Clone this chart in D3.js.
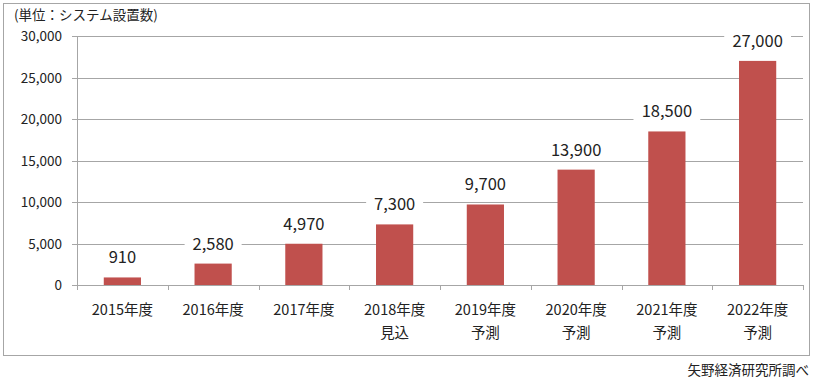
<!DOCTYPE html>
<html>
<head>
<meta charset="utf-8">
<script src="https://d3js.org/d3.v7.min.js"></script>
<style>
  body { margin: 0; background: #fff; font-family: "Noto Sans CJK JP", "Noto Sans", sans-serif; }
  svg { display: block; }
</style>
</head>
<body>
<div id="chart"></div>
<script>
const years = ["2015年度", "2016年度", "2017年度", "2018年度", "2019年度", "2020年度", "2021年度", "2022年度"];
const notes = ["", "", "", "見込", "予測", "予測", "予測", "予測"];
const values = [910, 2580, 4970, 7300, 9700, 13900, 18500, 27000];
const yTicks = [0, 5000, 10000, 15000, 20000, 25000, 30000];

const W = 815, H = 382;
const margin = {top: 36, right: 12, bottom: 97, left: 77};

const svg = d3.select("#chart").append("svg")
  .attr("width", W).attr("height", H);

// outer frame
svg.append("rect")
  .attr("x", 3.5).attr("y", 3.5)
  .attr("width", 806).attr("height", 352)
  .attr("fill", "none").attr("stroke", "#a6a6a6");

const x = d3.scaleBand().domain(years).range([margin.left, W - margin.right]).paddingInner(0.59).paddingOuter(0.295);
const xb = d3.scaleBand().domain(years).range([margin.left, W - margin.right]);
const y = d3.scaleLinear().domain([0, 30000]).range([H - margin.bottom, margin.top]);

const fmt = d3.format(",");

// gridlines + y axis labels
const gy = svg.append("g");
gy.selectAll("line").data(yTicks).join("line")
  .attr("x1", margin.left - 5).attr("x2", W - margin.right)
  .attr("y1", d => Math.round(y(d)) + 0.5).attr("y2", d => Math.round(y(d)) + 0.5)
  .attr("stroke", "#a6a6a6");
gy.selectAll("text").data(yTicks).join("text")
  .attr("x", margin.left - 15).attr("y", d => y(d) + 5)
  .attr("text-anchor", "end").attr("font-size", 13.5).attr("fill", "#222")
  .text(d => fmt(d));

// y axis line
svg.append("line")
  .attr("x1", margin.left + 0.5).attr("x2", margin.left + 0.5)
  .attr("y1", y(30000)).attr("y2", y(0))
  .attr("stroke", "#a6a6a6");

// x category tick marks
svg.append("g").selectAll("line").data(years.map((d, i) => i).concat([years.length])).join("line")
  .attr("x1", i => Math.round(margin.left + i * xb.step()) + 0.5)
  .attr("x2", i => Math.round(margin.left + i * xb.step()) + 0.5)
  .attr("y1", y(0)).attr("y2", y(0) + 5)
  .attr("stroke", "#a6a6a6");

// bars
svg.append("g").selectAll("rect").data(values).join("rect")
  .attr("x", (d, i) => x(years[i]))
  .attr("width", x.bandwidth())
  .attr("y", d => y(d))
  .attr("height", d => y(0) - y(d))
  .attr("fill", "#c0504d");

// value labels with white background
const lab = svg.append("g").selectAll("g").data(values).join("g")
  .attr("transform", (d, i) => `translate(${xb(years[i]) + xb.bandwidth() / 2},${y(d) - 14})`);
lab.append("rect")
  .attr("x", d => -fmt(d).length * 4.9 - 4).attr("y", -16)
  .attr("width", d => fmt(d).length * 9.8 + 8).attr("height", 21)
  .attr("fill", "#fff");
lab.append("text")
  .attr("text-anchor", "middle").attr("font-size", 16.5).attr("fill", "#222")
  .text(d => fmt(d));

// category labels
const cl = svg.append("g").selectAll("g").data(years).join("g")
  .attr("transform", d => `translate(${xb(d) + xb.bandwidth() / 2},0)`);
cl.append("text")
  .attr("y", 315).attr("text-anchor", "middle").attr("font-size", 14.5).attr("fill", "#222")
  .text(d => d);
cl.append("text")
  .attr("y", 338).attr("text-anchor", "middle").attr("font-size", 14.5).attr("fill", "#222")
  .text((d, i) => notes[i]);

// unit label
svg.append("text")
  .attr("x", 14).attr("y", 20).attr("font-size", 13.5).attr("fill", "#222")
  .text("(単位：システム設置数)");

// source
svg.append("text")
  .attr("x", 809).attr("y", 375).attr("text-anchor", "end").attr("font-size", 13.5).attr("fill", "#222")
  .text("矢野経済研究所調べ");
</script>
</body>
</html>
